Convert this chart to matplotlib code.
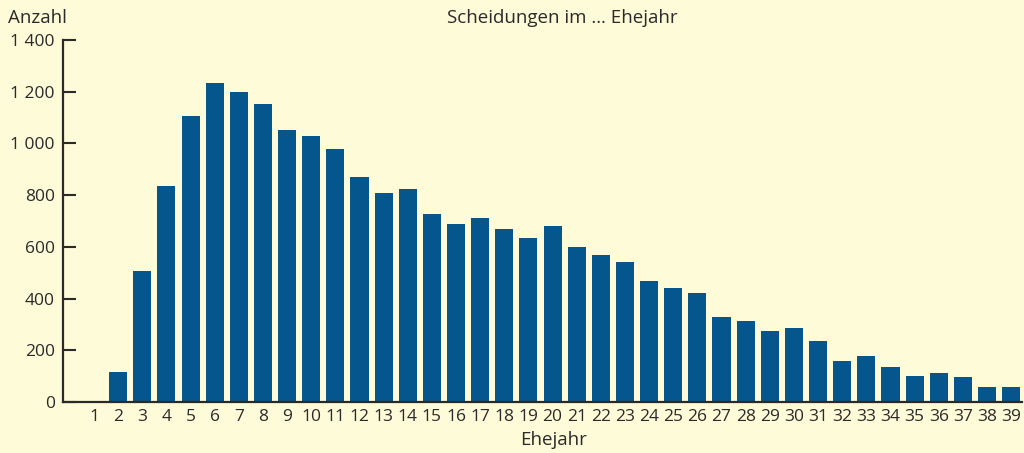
import numpy as np
import matplotlib.pyplot as plt
from matplotlib.ticker import FuncFormatter

# Ehejahr 1..39, Anzahl Scheidungen
ehejahr = np.arange(1, 40)
anzahl = [0, 116, 507, 835, 1106, 1234, 1199, 1152, 1052, 1029,
          978, 870, 808, 824, 727, 688, 712, 669, 634, 681,
          599, 568, 541, 468, 441, 421, 330, 313, 275, 286,
          236, 159, 178, 135, 101, 112, 97, 58, 58]

bg = '#fefbd9'
bar_col = '#05568c'
ink = '#2a2a2a'

plt.rcParams['font.family'] = ['Open Sans', 'DejaVu Sans']

fig = plt.figure(figsize=(10.24, 4.53), dpi=100, facecolor=bg)
ax = fig.add_axes([63/1024, 51/453, (1022-63)/1024, 362/453], facecolor=bg)

ax.bar(ehejahr, anzahl, width=0.75, color=bar_col, zorder=2)

ax.set_xlim(-0.285, 39.45)
ax.set_ylim(0, 1400)
ax.set_yticks(np.arange(0, 1401, 200))
ax.yaxis.set_major_formatter(FuncFormatter(lambda v, p: f'{int(v):,}'.replace(',', ' ')))
ax.set_xticks(ehejahr)

for s in ['top', 'right']:
    ax.spines[s].set_visible(False)
for s in ['left', 'bottom']:
    ax.spines[s].set_color(ink)
    ax.spines[s].set_linewidth(1.6)

ax.tick_params(axis='y', direction='in', length=9, width=1.5, color=ink,
               labelsize=12.5, labelcolor=ink, pad=6)
ax.tick_params(axis='x', length=0, labelsize=12.5, labelcolor=ink, pad=5)

fig.text(8/1024, 1 - 18/453, 'Anzahl', fontsize=13.5, color=ink, va='center', ha='left')
fig.text(562/1024, 1 - 18/453, 'Scheidungen im … Ehejahr', fontsize=13.5, color=ink,
         va='center', ha='center')
fig.text(554/1024, 1 - 440/453, 'Ehejahr', fontsize=13.5, color=ink, va='center', ha='center')

fig.savefig('out.png', dpi=100, facecolor=bg)
